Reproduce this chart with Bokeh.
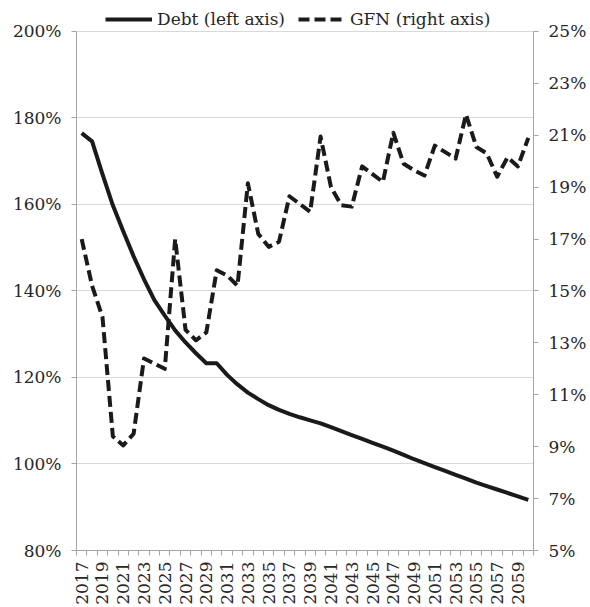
import math
from bokeh.plotting import figure
from bokeh.models import (Range1d, LinearAxis, FixedTicker, PrintfTickFormatter,
                          Legend, LegendItem, ColumnDataSource)
from bokeh.embed import file_html
from bokeh.resources import INLINE

# ---- data ----
years = list(range(2017, 2061))
debt = [176.5, 174.6, 167.0, 159.8, 153.8, 148.0, 142.7, 137.9, 134.3, 130.9,
        128.1, 125.6, 123.3, 123.3, 120.6, 118.4, 116.5, 115.0, 113.6, 112.5,
        111.6, 110.8, 110.1, 109.4, 108.5, 107.6, 106.7, 105.8, 104.9, 104.0,
        103.1, 102.1, 101.1, 100.2, 99.3, 98.4, 97.5, 96.6, 95.7, 94.9,
        94.1, 93.3, 92.5, 91.7]
gfn = [17.0, 15.2, 14.0, 9.4, 9.05, 9.5, 12.4, 12.2, 12.0, 17.0,
       13.5, 13.1, 13.4, 15.8, 15.6, 15.2, 19.15, 17.2, 16.7, 16.9,
       18.65, 18.35, 18.05, 20.95, 19.0, 18.3, 18.25, 19.8, 19.5, 19.2,
       21.1, 19.9, 19.65, 19.45, 20.6, 20.35, 20.1, 21.8, 20.55, 20.3,
       19.4, 20.15, 19.8, 20.9]
left_ticks = [80, 100, 120, 140, 160, 180, 200]
right_ticks = [5, 7, 9, 11, 13, 15, 17, 19, 21, 23, 25]
x_label_years = [2017, 2019, 2021, 2023, 2025, 2027, 2029, 2031, 2033, 2035, 2037,
                 2039, 2041, 2043, 2045, 2047, 2049, 2051, 2053, 2055, 2057, 2059]

FONT = "DejaVu Serif"
AXIS_GRAY = "#a6a6a6"
TEXT = "#262626"
LINE = "#1a1a1a"

W, H = 590, 607
BL, BR, BB = 76, 57, 56
TOP_PAD = 31                     # pixels above the 200% line kept for the legend
FRAME_H = H - BB
PLOT_H = FRAME_H - TOP_PAD

l0, l1 = left_ticks[0], left_ticks[-1]
r0, r1_ = right_ticks[0], right_ticks[-1]
l_end = l1 + TOP_PAD * (l1 - l0) / PLOT_H
r_end = r1_ + TOP_PAD * (r1_ - r0) / PLOT_H

p = figure(width=W, height=H, output_backend="svg", toolbar_location=None,
           x_range=Range1d(years[0] - 0.5, years[-1] + 0.5),
           y_range=Range1d(l0, l_end),
           min_border_left=BL, min_border_right=BR, min_border_top=0,
           min_border_bottom=BB)
p.extra_y_ranges = {"gfn": Range1d(r0, r_end)}
p.outline_line_color = None
p.background_fill_color = "white"
p.border_fill_color = "white"

src = ColumnDataSource(dict(year=years, debt=debt, gfn=gfn))
r1 = p.line("year", "debt", source=src, line_width=4, line_color=LINE,
            line_join="round")
r2 = p.line("year", "gfn", source=src, y_range_name="gfn", line_width=4,
            line_color=LINE, line_dash="11 5", line_join="round")

# x axis
xa = p.xaxis[0]
xa.ticker = FixedTicker(ticks=x_label_years,
                        minor_ticks=[y - 0.5 for y in years] + [years[-1] + 0.5])
xa.major_tick_out = 0
xa.major_tick_in = 0
xa.minor_tick_out = 5
xa.minor_tick_in = 0
xa.axis_line_color = AXIS_GRAY
xa.minor_tick_line_color = AXIS_GRAY
xa.major_label_orientation = math.pi / 2
xa.major_label_text_font = FONT
xa.major_label_text_font_size = "17px"
xa.major_label_text_color = TEXT
xa.major_label_standoff = 6

# left axis
ya = p.yaxis[0]
ya.ticker = FixedTicker(ticks=left_ticks, minor_ticks=[])
ya.formatter = PrintfTickFormatter(format="%d%%")
ya.bounds = (l0, l1)
ya.major_tick_out = 5
ya.major_tick_in = 0
ya.minor_tick_out = 0
ya.minor_tick_in = 0
ya.axis_line_color = AXIS_GRAY
ya.major_tick_line_color = AXIS_GRAY
ya.major_label_text_font = FONT
ya.major_label_text_font_size = "17px"
ya.major_label_text_color = TEXT
ya.major_label_standoff = 10

# right axis
ra = LinearAxis(y_range_name="gfn",
                ticker=FixedTicker(ticks=right_ticks, minor_ticks=[]),
                formatter=PrintfTickFormatter(format="%d%%"),
                bounds=(r0, r1_))
ra.major_tick_out = 5
ra.major_tick_in = 0
ra.minor_tick_out = 0
ra.minor_tick_in = 0
ra.axis_line_color = AXIS_GRAY
ra.major_tick_line_color = AXIS_GRAY
ra.major_label_text_font = FONT
ra.major_label_text_font_size = "17px"
ra.major_label_text_color = TEXT
ra.major_label_standoff = 10
p.add_layout(ra, "right")

p.xgrid.visible = False
p.ygrid.grid_line_color = "#d9d9d9"
p.ygrid.grid_line_width = 1

legend = Legend(items=[LegendItem(label="Debt (left axis)", renderers=[r1]),
                       LegendItem(label="GFN (right axis)", renderers=[r2])],
                orientation="horizontal", location=(29, PLOT_H),
                border_line_color=None, background_fill_alpha=0,
                padding=0, margin=0, spacing=13, label_standoff=5,
                glyph_width=47, glyph_height=22, label_height=22,
                label_text_font=FONT, label_text_font_size="17px",
                label_text_color=TEXT)
p.add_layout(legend)

open("out.html", "w").write(file_html(p, INLINE))
